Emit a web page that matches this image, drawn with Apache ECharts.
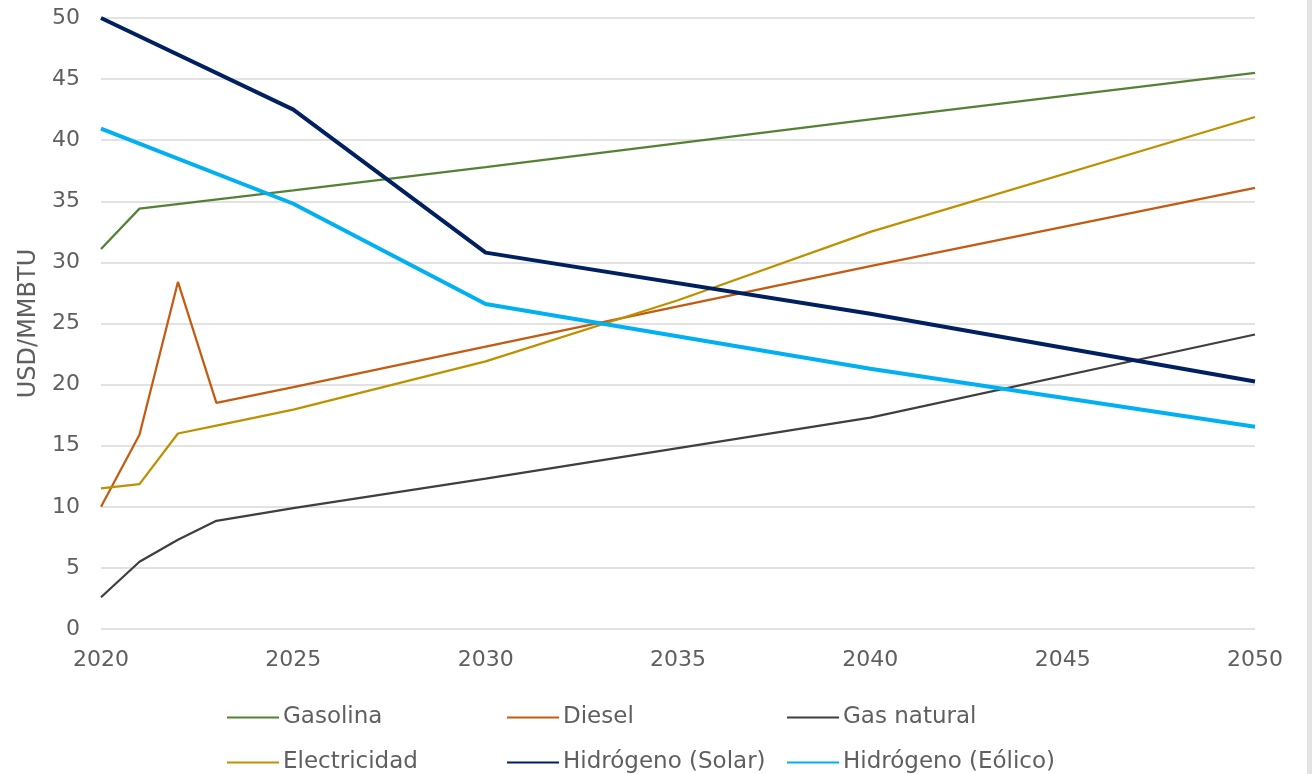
<!DOCTYPE html>
<html lang="es">
<head>
  <meta charset="utf-8">
  <style>
    html, body { margin: 0; height: 100%; background: #fff; }
    #container { width: 1312px; height: 774px; }
  </style>
</head>
<body>
  <div id="container"></div>
  <script src="https://cdn.jsdelivr.net/npm/echarts@6/dist/echarts.min.js"></script>
  <script>
    // values, [year, USD/MMBTU]
    var gasolina = [[2020, 31.1], [2021, 34.4], [2025, 35.9], [2030, 37.8], [2040, 41.7], [2050, 45.5]];
    var diesel = [[2020, 10.0], [2021, 15.9], [2022, 28.4], [2023, 18.5], [2025, 19.8], [2030, 23.1], [2040, 29.7], [2050, 36.1]];
    var gasNatural = [[2020, 2.6], [2021, 5.5], [2022, 7.3], [2023, 8.85], [2025, 9.9], [2030, 12.3], [2040, 17.3], [2050, 24.1]];
    var electricidad = [[2020, 11.5], [2021, 11.85], [2022, 16.0], [2023, 16.65], [2025, 17.95], [2030, 21.9], [2035, 26.9], [2040, 32.5], [2050, 41.9]];
    var hSolar = [[2020, 50.0], [2025, 42.5], [2030, 30.8], [2040, 25.8], [2050, 20.25]];
    var hEolico = [[2020, 40.95], [2025, 34.8], [2030, 26.6], [2040, 21.3], [2050, 16.55]];

    var names = ['Gasolina', 'Diesel', 'Gas natural', 'Electricidad', 'Hidrógeno (Solar)', 'Hidrógeno (Eólico)'];
    var colors = ['#548235', '#C55A11', '#3F3F3F', '#BF9000', '#002060', '#00B0F0'];
    var widths = [2.25, 2.25, 2.25, 2.25, 4, 4];
    var seriesData = [gasolina, diesel, gasNatural, electricidad, hSolar, hEolico];

    var font = 'DejaVu Sans';
    var textColor = '#5f5f5f';

    var chart = echarts.init(document.getElementById('container'), null, { renderer: 'canvas' });

    function legendCol(left, items) {
      return {
        orient: 'vertical',
        left: left,
        top: 706,
        padding: 0,
        itemWidth: 52,
        itemHeight: 14,
        itemGap: 22,
        data: items,
        itemStyle: { opacity: 0 },
        textStyle: { fontFamily: font, fontSize: 23, color: textColor, padding: [0, 0, 0, -1] }
      };
    }

    var option = {
      animation: false,
      backgroundColor: '#fff',
      color: colors,
      grid: { left: 101, right: 57, top: 18, bottom: 145 },
      legend: [
        legendCol(226, [names[0], names[3]]),
        legendCol(506, [names[1], names[4]]),
        legendCol(786, [names[2], names[5]])
      ],
      xAxis: {
        type: 'value',
        min: 2020,
        max: 2050,
        interval: 5,
        axisLine: { show: false },
        axisTick: { show: false },
        splitLine: { show: false },
        axisLabel: {
          margin: 20,
          color: textColor,
          fontFamily: font,
          fontSize: 22,
          formatter: function (v) { return String(v); }
        }
      },
      yAxis: {
        type: 'value',
        min: 0,
        max: 50,
        interval: 5,
        name: 'USD/MMBTU',
        nameLocation: 'middle',
        nameGap: 56,
        nameTextStyle: { color: textColor, fontFamily: font, fontSize: 24 },
        axisLine: { show: false },
        axisTick: { show: false },
        axisLabel: { margin: 21, color: textColor, fontFamily: font, fontSize: 22 },
        splitLine: { lineStyle: { color: '#D9D9D9', width: 1.5 } }
      },
      series: names.map(function (n, i) {
        return {
          name: n,
          type: 'line',
          symbol: 'none',
          data: seriesData[i],
          lineStyle: { width: widths[i], color: colors[i] },
          itemStyle: { color: colors[i] }
        };
      }),
      graphic: [{
        type: 'rect',
        right: 0,
        top: 0,
        shape: { width: 5, height: 774 },
        style: { fill: '#E3E3E3' },
        silent: true
      }]
    };

    chart.setOption(option);
    window.addEventListener('resize', chart.resize);
  </script>
</body>
</html>
